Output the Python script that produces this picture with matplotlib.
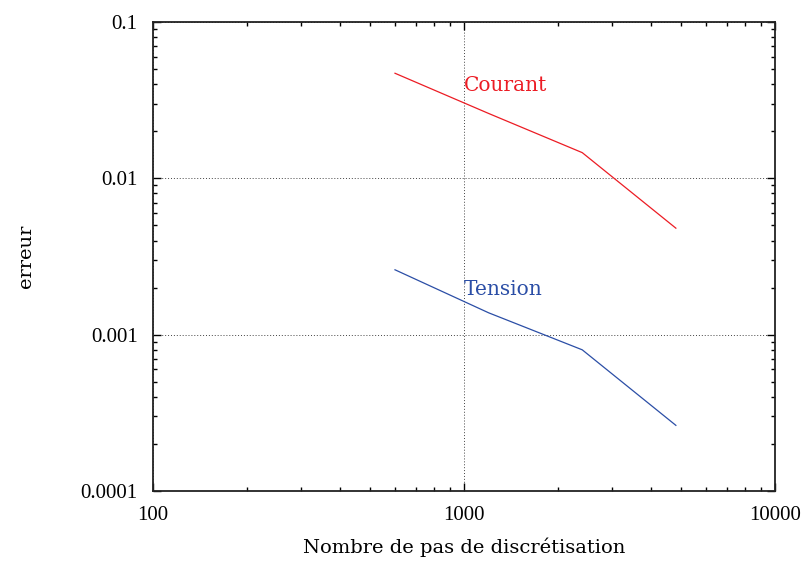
import matplotlib.pyplot as plt
from matplotlib.ticker import LogLocator, FixedLocator, FixedFormatter

plt.rcParams['font.family'] = ['Liberation Serif', 'DejaVu Serif']

# Number of discretisation steps
steps = [600, 1200, 2400, 4800]

# Error curves
courant = [0.047, 0.026, 0.0146, 0.0048]
tension = [0.0026, 0.00138, 0.00080, 0.000263]

xticks = [100, 1000, 10000]
xtick_labels = ['100', '1000', '10000']
yticks = [0.0001, 0.001, 0.01, 0.1]
ytick_labels = ['0.0001', '0.001', '0.01', '0.1']

red = '#ec1c24'
blue = '#2b4ea6'
label_font = ['DejaVu Serif']

fig = plt.figure(figsize=(8.11, 5.66), dpi=100)
ax = fig.add_axes([153 / 811, 75 / 566, 622 / 811, 469 / 566])

ax.plot(steps, courant, color=red, lw=0.9)
ax.plot(steps, tension, color=blue, lw=0.9)

ax.set_xscale('log')
ax.set_yscale('log')
ax.set_xlim(100, 10000)
ax.set_ylim(0.0001, 0.1)

ax.xaxis.set_major_locator(FixedLocator(xticks))
ax.xaxis.set_major_formatter(FixedFormatter(xtick_labels))
ax.yaxis.set_major_locator(FixedLocator(yticks))
ax.yaxis.set_major_formatter(FixedFormatter(ytick_labels))
ax.xaxis.set_minor_locator(LogLocator(base=10, subs=range(2, 10), numticks=20))
ax.yaxis.set_minor_locator(LogLocator(base=10, subs=range(2, 10), numticks=20))
ax.xaxis.set_minor_formatter(FixedFormatter([]))
ax.yaxis.set_minor_formatter(FixedFormatter([]))

ax.tick_params(which='both', direction='in', top=True, right=True,
               labelsize=15, width=1.0)
ax.tick_params(which='major', length=6)
ax.tick_params(which='minor', length=3)
ax.tick_params(axis='x', pad=11)
ax.tick_params(axis='y', pad=11)

ax.grid(True, which='major', ls=(0, (1, 2)), color='#444444', lw=0.7)
for s in ax.spines.values():
    s.set_linewidth(1.3)
    s.set_color('#222222')

ax.text(1000, 0.0394, 'Courant', color=red, fontsize=14.5, va='center',
        ha='left', family=label_font)
ax.text(1000, 0.00194, 'Tension', color=blue, fontsize=14.5, va='center',
        ha='left', family=label_font)

ax.set_xlabel('Nombre de pas de discrétisation', fontsize=14,
              labelpad=9, family=label_font)
ax.set_ylabel('erreur', fontsize=14, labelpad=33, family=label_font)

fig.savefig('out.png', dpi=100)
